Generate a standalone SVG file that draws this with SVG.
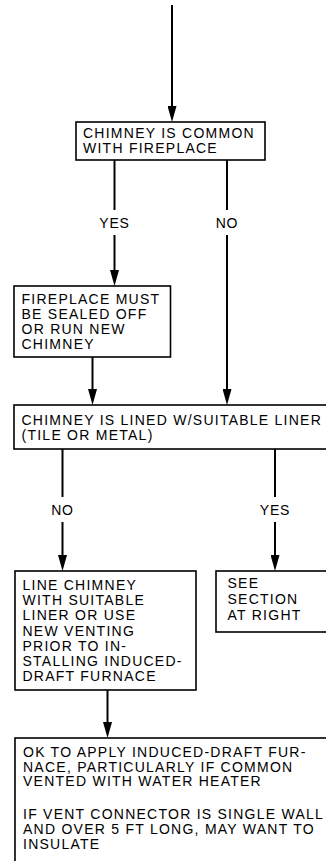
<svg xmlns="http://www.w3.org/2000/svg" width="326" height="861" viewBox="0 0 326 861">
<style>
.box{fill:#fff;stroke:#000;stroke-width:1.6}
.ln{fill:none;stroke:#000;stroke-width:2}
text{font-family:"Liberation Sans",Arial,sans-serif;font-size:14px;fill:#000;letter-spacing:1.25px}
.lbl{text-anchor:middle;letter-spacing:0.8px}
</style>
<defs>
<marker id="arr" markerUnits="userSpaceOnUse" viewBox="0 0 16 9" markerWidth="16" markerHeight="9" refX="8" refY="4.5" orient="auto">
<path d="M0,0 L16,4.5 L0,9 Z" fill="#000"/>
</marker>
</defs>
<rect width="326" height="861" fill="#fff"/>
<g id="connectors">
<line class="ln" x1="172" y1="5" x2="172" y2="114" marker-end="url(#arr)"/>
<line class="ln" x1="114.5" y1="160" x2="114.5" y2="210"/>
<line class="ln" x1="114.5" y1="235" x2="114.5" y2="278" marker-end="url(#arr)"/>
<line class="ln" x1="227" y1="160" x2="227" y2="210"/>
<line class="ln" x1="227" y1="235" x2="227" y2="397" marker-end="url(#arr)"/>
<line class="ln" x1="92.5" y1="357" x2="92.5" y2="397" marker-end="url(#arr)"/>
<line class="ln" x1="62.5" y1="449" x2="62.5" y2="497"/>
<line class="ln" x1="62.5" y1="522" x2="62.5" y2="563" marker-end="url(#arr)"/>
<line class="ln" x1="275" y1="449" x2="275" y2="497"/>
<line class="ln" x1="275" y1="522" x2="275" y2="563" marker-end="url(#arr)"/>
<line class="ln" x1="107.5" y1="690" x2="107.5" y2="730" marker-end="url(#arr)"/>
<text class="lbl" x="114.5" y="228">YES</text>
<text class="lbl" x="227" y="228">NO</text>
<text class="lbl" x="62.5" y="515">NO</text>
<text class="lbl" x="275" y="515">YES</text>
</g>
<g id="node-common">
<rect class="box" x="76" y="122" width="189" height="38"/>
<text x="83" y="138">CHIMNEY IS COMMON</text>
<text x="83" y="153">WITH FIREPLACE</text>
</g>
<g id="node-fireplace">
<rect class="box" x="14" y="286" width="156.5" height="71"/>
<text x="21.5" y="304">FIREPLACE MUST</text>
<text x="21.5" y="319">BE SEALED OFF</text>
<text x="21.5" y="334">OR RUN NEW</text>
<text x="21.5" y="349">CHIMNEY</text>
</g>
<g id="node-lined">
<rect class="box" x="14" y="405" width="320" height="44"/>
<text x="21.5" y="425">CHIMNEY IS LINED W/SUITABLE LINER</text>
<text x="21.5" y="439.5">(TILE OR METAL)</text>
</g>
<g id="node-line-chimney">
<rect class="box" x="15" y="571" width="181" height="119"/>
<text x="22.5" y="590">LINE CHIMNEY</text>
<text x="22.5" y="605">WITH SUITABLE</text>
<text x="22.5" y="620">LINER OR USE</text>
<text x="22.5" y="635.5">NEW VENTING</text>
<text x="22.5" y="650.5">PRIOR TO IN-</text>
<text x="22.5" y="665.5">STALLING INDUCED-</text>
<text x="22.5" y="681">DRAFT FURNACE</text>
</g>
<g id="node-see-section">
<rect class="box" x="216" y="571" width="120" height="61"/>
<text x="227.5" y="588">SEE</text>
<text x="227.5" y="604">SECTION</text>
<text x="227.5" y="620">AT RIGHT</text>
</g>
<g id="node-ok">
<rect class="box" x="15" y="738" width="320" height="140"/>
<text x="23" y="757">OK TO APPLY INDUCED-DRAFT FUR-</text>
<text x="23" y="771.5">NACE, PARTICULARLY IF COMMON</text>
<text x="23" y="786">VENTED WITH WATER HEATER</text>
<text x="23" y="819">IF VENT CONNECTOR IS SINGLE WALL</text>
<text x="23" y="834">AND OVER 5 FT LONG, MAY WANT TO</text>
<text x="23" y="849">INSULATE</text>
</g>
</svg>
